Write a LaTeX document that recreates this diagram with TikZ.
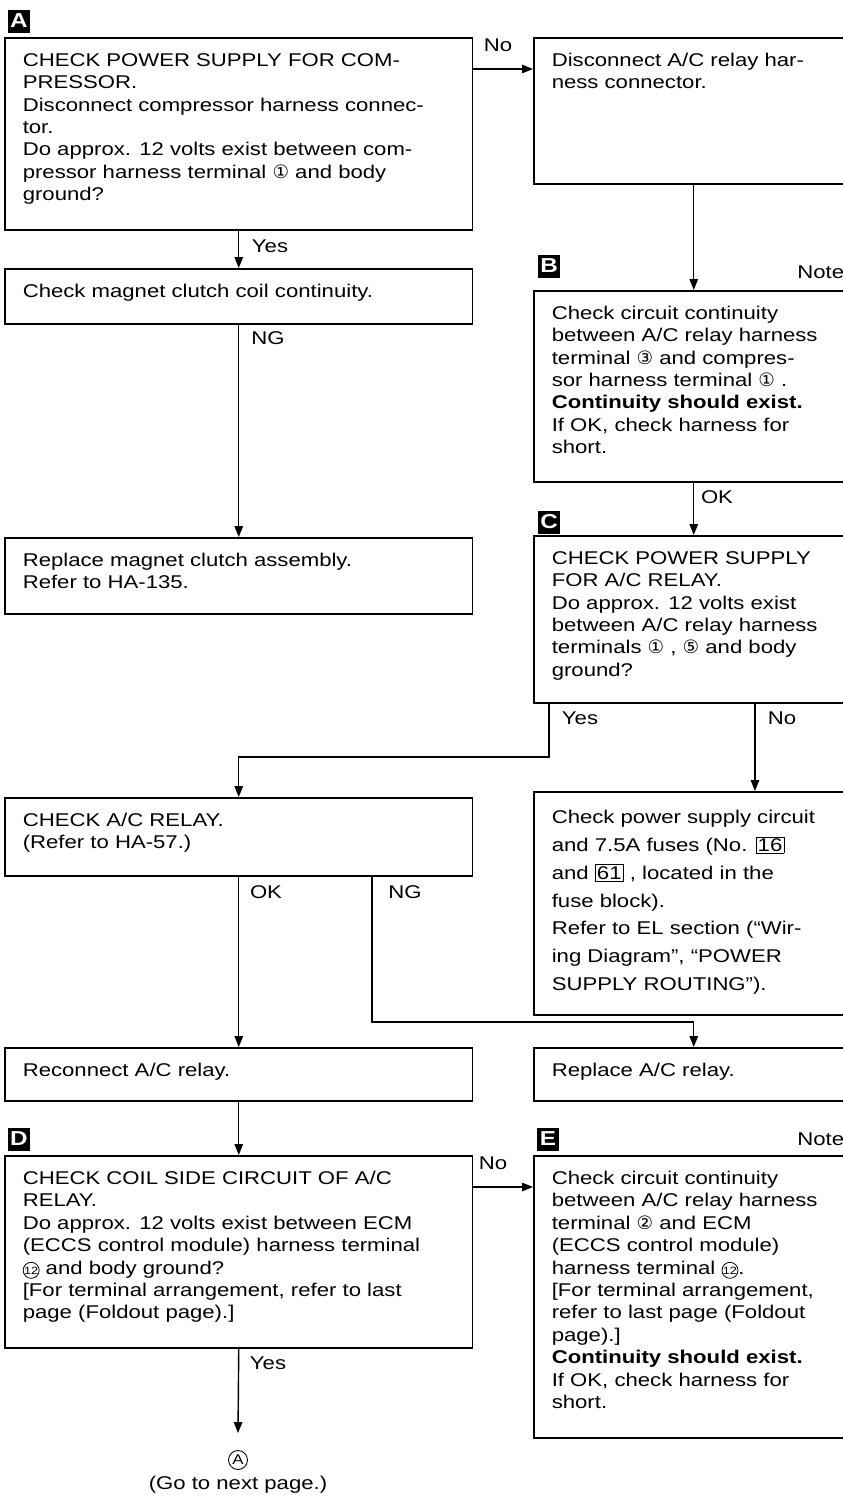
\documentclass[tikz,border=0pt]{standalone}
\usepackage{fontspec}
\setmainfont{Liberation Sans}[FakeStretch=1.2]
\newfontfamily\circfont{DejaVu Sans}
\usetikzlibrary{arrows.meta,calc}
\newcommand{\cn}[1]{{\circfont #1}}
% circled number that no font here has: drawn as a small ring
\newcommand{\cring}[1]{\tikz[baseline=(cr.base)]\node[circle,draw,line width=0.45pt,
  inner sep=0pt,minimum size=0.32cm,font=\fontsize{6}{6}\selectfont] (cr) {#1};}
\newcommand{\fuse}[1]{{\setlength{\fboxsep}{0.8pt}\setlength{\fboxrule}{0.4pt}\fbox{#1}}}
\newcommand{\boxtxt}[3]{\parbox[c][#2][t]{#1}{\raggedright\strut #3}}

\begin{document}
\begin{tikzpicture}[x=0.02cm,y=-0.02cm,
  every node/.style={font=\fontsize{10.5}{12.8}\selectfont},
  box/.style={draw,line width=0.9pt,anchor=north west,
              inner xsep=0.36cm,inner ysep=0.25cm},
  tag/.style={fill=black,text=white,font=\fontsize{11.5}{12}\selectfont\bfseries,
              minimum width=0.44cm,minimum height=0.46cm,inner sep=0pt},
  lab/.style={inner sep=0pt},
  arr/.style={-{Triangle[length=0.22cm,width=0.17cm]},line width=0.8pt},
]
\useasboundingbox (0,0) rectangle (842,1498);

%% -- A: power supply for compressor ----------------------------------
\node[tag] (tA) at (19,21) {A};
\node[box] (bA) at (4,37)
  {\boxtxt{8.64cm}{3.34cm}{CHECK POWER SUPPLY FOR COM-\\
   PRESSOR.\\
   Disconnect compressor harness connec-\\
   tor.\\
   Do approx. 12 volts exist between com-\\
   pressor harness terminal \cn{①} and body\\
   ground?}};
\node[lab] (nA) at (498,45) {No};
\node[box] (bDisc) at (533,37)
  {\boxtxt{5.68cm}{2.42cm}{Disconnect A/C relay har-\\ness connector.}};

\node[lab] (yA) at (270,246) {Yes};
\node[box] (bMag) at (4,268)
  {\boxtxt{8.64cm}{0.6cm}{Check magnet clutch coil continuity.}};
\node[lab] (gMag) at (268,338) {NG};
\node[box] (bRep) at (4,537)
  {\boxtxt{8.64cm}{1.02cm}{Replace magnet clutch assembly.\\Refer to HA-135.}};

%% -- B: circuit continuity --------------------------------------------
\node[tag] (tB) at (549,266) {B};
\node[lab,anchor=west] (noteB) at (797,272) {Note};
\node[box] (bB) at (533,290)
  {\boxtxt{5.68cm}{3.32cm}{Check circuit continuity\\
   between A/C relay harness\\
   terminal \cn{③} and compres-\\
   sor harness terminal \cn{①} .\\
   \textbf{Continuity should exist.}\\
   If OK, check harness for\\
   short.}};
\node[lab] (oB) at (717,497) {OK};

%% -- C: power supply for relay ----------------------------------------
\node[tag] (tC) at (549,522) {C};
\node[box] (bC) at (533,535)
  {\boxtxt{5.68cm}{2.84cm}{CHECK POWER SUPPLY\\
   FOR A/C RELAY.\\
   Do approx. 12 volts exist\\
   between A/C relay harness\\
   terminals \cn{①} , \cn{⑤} and body\\
   ground?}};
\node[lab] (yC) at (580,718) {Yes};
\node[lab] (nC) at (782,718) {No};

\node[box] (bRel) at (4,797)
  {\boxtxt{8.64cm}{1.06cm}{CHECK A/C RELAY.\\(Refer to HA-57.)}};
\node[box,font=\fontsize{10.5}{15.8}\selectfont] (bPow) at (533,791)
  {\boxtxt{5.68cm}{3.96cm}{Check power supply circuit\\
   and 7.5A fuses (No. \fuse{16}\\
   and \fuse{61} , located in the\\
   fuse block).\\
   Refer to EL section (“Wir-\\
   ing Diagram”, “POWER\\
   SUPPLY ROUTING”).}};
\node[lab] (oRel) at (266,892) {OK};
\node[lab] (gRel) at (405,892) {NG};

\node[box] (bRec) at (4,1047) {\boxtxt{8.64cm}{0.56cm}{Reconnect A/C relay.}};
\node[box] (bRpl) at (533,1047) {\boxtxt{5.68cm}{0.56cm}{Replace A/C relay.}};

%% -- D / E: coil side circuit -----------------------------------------
\node[tag] (tD) at (19,1139) {D};
\node[tag] (tE) at (548,1139) {E};
\node[lab,anchor=west] (noteE) at (797,1139) {Note};
\node[box] (bD) at (4,1155)
  {\boxtxt{8.64cm}{3.34cm}{CHECK COIL SIDE CIRCUIT OF A/C\\
   RELAY.\\
   Do approx. 12 volts exist between ECM\\
   (ECCS control module) harness terminal\\
   \cring{12} and body ground?\\
   {[}For terminal arrangement, refer to last\\
   page (Foldout page).]}};
\node[lab] (nD) at (493,1163) {No};
\node[box] (bE) at (533,1155)
  {\boxtxt{5.68cm}{5.14cm}{Check circuit continuity\\
   between A/C relay harness\\
   terminal \cn{②} and ECM\\
   (ECCS control module)\\
   harness terminal \cring{12}.\\
   {[}For terminal arrangement,\\
   refer to last page (Foldout\\
   page).]\\
   \textbf{Continuity should exist.}\\
   If OK, check harness for\\
   short.}};
\node[lab] (yD) at (268,1363) {Yes};
\node[circle,draw,line width=0.5pt,inner sep=0pt,minimum size=0.38cm,
      font=\fontsize{8}{8}\selectfont] (goA) at (238,1460) {A};
\node[lab] (goT) at (238,1485) {(Go to next page.)};

%% -- connectors --------------------------------------------------------
\draw[arr] ([yshift=-0.64cm]bA.north east) -- ([yshift=-0.64cm]bDisc.north west);
\draw[arr] (bDisc.south) -- (bB.north);
\draw[arr] (bA.south) -- (bMag.north);
\draw[arr] (bMag.south) -- (bRep.north);
\draw[arr] (bB.south) -- (bC.north);
\draw[arr] ([xshift=0.32cm]bC.south west) |- ([yshift=0.8cm]bRel.north) -- (bRel.north);
\draw[arr] ([xshift=4.44cm]bC.south west) -- ([xshift=4.44cm]bPow.north west);
\draw[arr] (bRel.south) -- (bRec.north);
\draw[arr] ([xshift=7.36cm]bRel.south west) |- ([yshift=0.5cm]bRpl.north) -- (bRpl.north);
\draw[arr] (bRec.south) -- (bD.north);
\draw[arr] ([yshift=-0.64cm]bD.north east) -- ([yshift=-0.64cm]bE.north west);
\draw[arr] (bD.south) -- ([yshift=0.54cm]goA.center);

\end{tikzpicture}
\end{document}
